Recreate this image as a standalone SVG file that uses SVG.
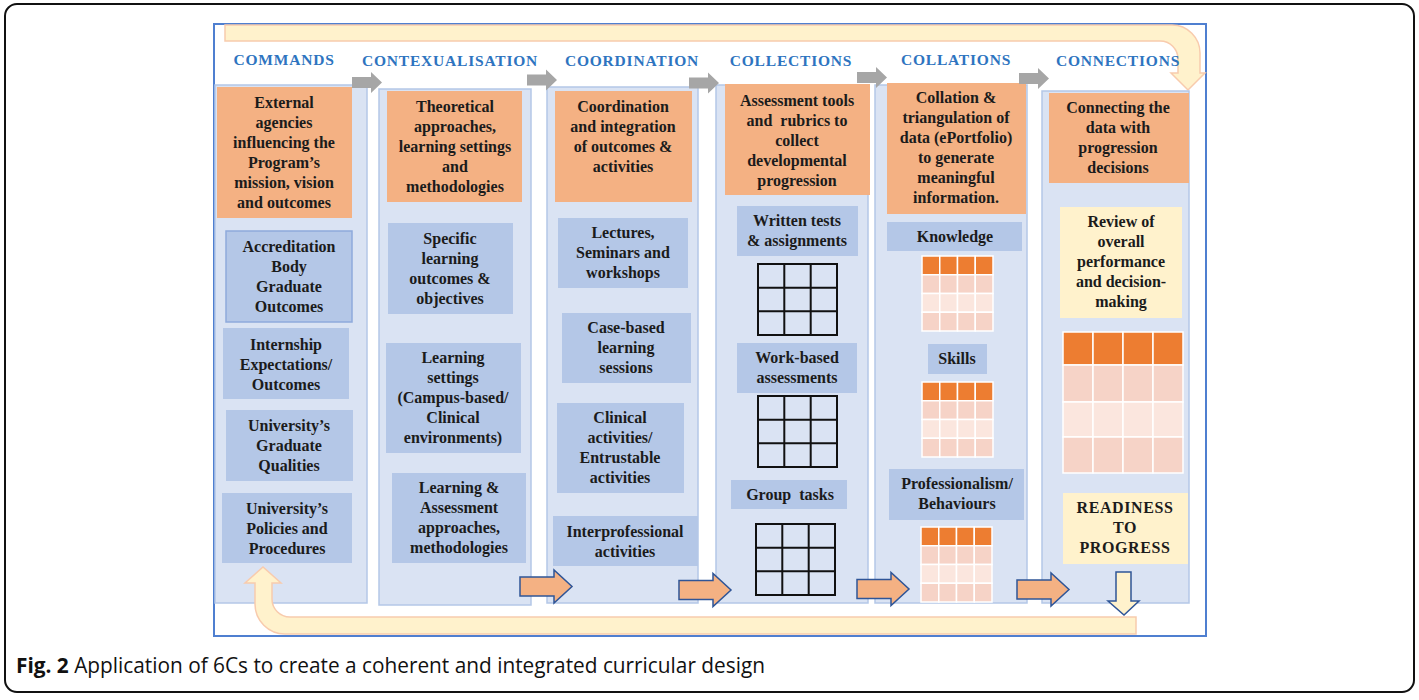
<svg xmlns="http://www.w3.org/2000/svg" width="1419" height="700" viewBox="0 0 1419 700">
<style>
.hdr{font-family:"Liberation Serif",serif;font-weight:bold;font-size:15.5px;fill:#2E74C0;letter-spacing:0.8px;text-anchor:middle}
.t{font-family:"Liberation Serif",serif;font-weight:bold;font-size:16px;fill:#1b1b1b;text-anchor:middle}
.panel{fill:#DAE3F3;stroke:#B4C7E7;stroke-width:1.5}
.ob{fill:#F4B183}
.bb{fill:#B4C7E7}
.yb{fill:#FFF2CC}
.grid{fill:none;stroke:#111;stroke-width:2}
.hc{fill:#ED7D31;stroke:#fff;stroke-width:1.5}
.r1{fill:#F6D3C7;stroke:#fff;stroke-width:1.5}
.r2{fill:#FBE6DE;stroke:#fff;stroke-width:1.5}
.gray{fill:#A6A6A6}
.oarrow{fill:#F4B183;stroke:#2F5597;stroke-width:1.5}
.uturn{fill:#FFF2CC;stroke:#F8CBAD;stroke-width:1.5}
.cap{font-family:"Open Sans","Noto Sans",sans-serif;font-size:22px;fill:#111}
</style>
<defs>
<path id="grayArrow" class="gray" d="M0,-5.5 H19 V-10.5 L30,0 L19,10.5 V5.5 H0 Z"/>
<path id="orangeArrow" class="oarrow" d="M0,-9.5 H34 V-16.5 L52,0 L34,16.5 V9.5 H0 Z"/>
<g id="grid3">
<rect class="grid" x="0" y="0" width="79" height="71"/>
<path class="grid" d="M26.3,0 V71 M52.7,0 V71 M0,23.7 H79 M0,47.3 H79"/>
</g>
<g id="smallTable">
<rect class="hc" x="0" y="0" width="17.75" height="18.75"/><rect class="hc" x="17.75" y="0" width="17.75" height="18.75"/><rect class="hc" x="35.5" y="0" width="17.75" height="18.75"/><rect class="hc" x="53.25" y="0" width="17.75" height="18.75"/>
<rect class="r1" x="0" y="18.75" width="17.75" height="18.75"/><rect class="r1" x="17.75" y="18.75" width="17.75" height="18.75"/><rect class="r1" x="35.5" y="18.75" width="17.75" height="18.75"/><rect class="r1" x="53.25" y="18.75" width="17.75" height="18.75"/>
<rect class="r2" x="0" y="37.5" width="17.75" height="18.75"/><rect class="r2" x="17.75" y="37.5" width="17.75" height="18.75"/><rect class="r2" x="35.5" y="37.5" width="17.75" height="18.75"/><rect class="r2" x="53.25" y="37.5" width="17.75" height="18.75"/>
<rect class="r1" x="0" y="56.25" width="17.75" height="18.75"/><rect class="r1" x="17.75" y="56.25" width="17.75" height="18.75"/><rect class="r1" x="35.5" y="56.25" width="17.75" height="18.75"/><rect class="r1" x="53.25" y="56.25" width="17.75" height="18.75"/>
</g>
</defs>
<rect x="0" y="0" width="1419" height="700" fill="#fff"/>
<rect id="outer-frame" x="5" y="4" width="1409" height="688" rx="12" ry="12" fill="#fff" stroke="#111" stroke-width="2"/>
<rect id="inner-frame" x="214" y="24" width="992" height="612" fill="#fff" stroke="#4F7FD0" stroke-width="2"/>

<g id="top-uturn">
<path class="uturn" d="M225,25 H1172 A28,28 0 0 1 1200,53 V73 H1205 L1188,90 L1171,73 H1178 V59 A18,18 0 0 0 1160,41 H225 Z"/>
</g>

<g id="headers">
<text class="hdr" x="284" y="65">COMMANDS</text>
<text class="hdr" x="450" y="66">CONTEXUALISATION</text>
<text class="hdr" x="632" y="66">COORDINATION</text>
<text class="hdr" x="791" y="66">COLLECTIONS</text>
<text class="hdr" x="956" y="65">COLLATIONS</text>
<text class="hdr" x="1118" y="66">CONNECTIONS</text>
</g>

<g id="col-commands">
<rect class="panel" x="215" y="85" width="152" height="518"/>
<g id="commands-main"><rect class="ob" x="217" y="87" width="135" height="131"/>
<text class="t"><tspan x="284" y="108">External</tspan><tspan x="284" y="128">agencies</tspan><tspan x="284" y="148">influencing the</tspan><tspan x="284" y="168">Program’s</tspan><tspan x="284" y="188">mission, vision</tspan><tspan x="284" y="208">and outcomes</tspan></text></g>
<g id="accreditation"><rect class="bb" x="226" y="231" width="126" height="91" stroke="#8FAADC" stroke-width="1.5"/>
<text class="t"><tspan x="289" y="252">Accreditation</tspan><tspan x="289" y="272">Body</tspan><tspan x="289" y="292">Graduate</tspan><tspan x="289" y="312">Outcomes</tspan></text></g>
<g id="internship"><rect class="bb" x="223" y="328" width="126" height="71"/>
<text class="t"><tspan x="286" y="350">Internship</tspan><tspan x="286" y="370">Expectations/</tspan><tspan x="286" y="390">Outcomes</tspan></text></g>
<g id="grad-qualities"><rect class="bb" x="226" y="410" width="127" height="71"/>
<text class="t"><tspan x="289" y="431">University’s</tspan><tspan x="289" y="451">Graduate</tspan><tspan x="289" y="471">Qualities</tspan></text></g>
<g id="policies"><rect class="bb" x="222" y="493" width="130" height="70"/>
<text class="t"><tspan x="287" y="514">University’s</tspan><tspan x="287" y="534">Policies and</tspan><tspan x="287" y="554">Procedures</tspan></text></g>
</g>

<g id="col-contextualisation">
<rect class="panel" x="379" y="89" width="152" height="516"/>
<g id="ctx-main"><rect class="ob" x="387" y="91" width="135" height="111"/>
<text class="t"><tspan x="455" y="112">Theoretical</tspan><tspan x="455" y="132">approaches,</tspan><tspan x="455" y="152">learning settings</tspan><tspan x="455" y="172">and</tspan><tspan x="455" y="192">methodologies</tspan></text></g>
<g id="specific"><rect class="bb" x="388" y="223" width="125" height="91"/>
<text class="t"><tspan x="450" y="244">Specific</tspan><tspan x="450" y="264">learning</tspan><tspan x="450" y="284">outcomes &amp;</tspan><tspan x="450" y="304">objectives</tspan></text></g>
<g id="settings"><rect class="bb" x="386" y="343" width="135" height="110"/>
<text class="t"><tspan x="453" y="363">Learning</tspan><tspan x="453" y="383">settings</tspan><tspan x="453" y="403">(Campus-based/</tspan><tspan x="453" y="423">Clinical</tspan><tspan x="453" y="443">environments)</tspan></text></g>
<g id="approaches"><rect class="bb" x="392" y="473" width="134" height="90"/>
<text class="t"><tspan x="459" y="493">Learning &amp;</tspan><tspan x="459" y="513">Assessment</tspan><tspan x="459" y="533">approaches,</tspan><tspan x="459" y="553">methodologies</tspan></text></g>
</g>

<g id="col-coordination">
<rect class="panel" x="547" y="87" width="151" height="516"/>
<g id="coord-main"><rect class="ob" x="555" y="91" width="137" height="111"/>
<text class="t"><tspan x="623" y="112">Coordination</tspan><tspan x="623" y="132">and integration</tspan><tspan x="623" y="152">of outcomes &amp;</tspan><tspan x="623" y="172">activities</tspan></text></g>
<g id="lectures"><rect class="bb" x="558" y="218" width="130" height="70"/>
<text class="t"><tspan x="623" y="238">Lectures,</tspan><tspan x="623" y="258">Seminars and</tspan><tspan x="623" y="278">workshops</tspan></text></g>
<g id="casebased"><rect class="bb" x="562" y="313" width="129" height="70"/>
<text class="t"><tspan x="626" y="333">Case-based</tspan><tspan x="626" y="353">learning</tspan><tspan x="626" y="373">sessions</tspan></text></g>
<g id="clinical"><rect class="bb" x="557" y="403" width="127" height="90"/>
<text class="t"><tspan x="620" y="423">Clinical</tspan><tspan x="620" y="443">activities/</tspan><tspan x="620" y="463">Entrustable</tspan><tspan x="620" y="483">activities</tspan></text></g>
<g id="interprof"><rect class="bb" x="553" y="516" width="145" height="50"/>
<text class="t"><tspan x="625" y="537">Interprofessional</tspan><tspan x="625" y="557">activities</tspan></text></g>
</g>

<g id="col-collections">
<rect class="panel" x="716" y="85" width="152" height="518"/>
<g id="coll-main"><rect class="ob" x="725" y="84" width="145" height="111"/>
<text class="t" xml:space="preserve"><tspan x="797" y="106">Assessment tools</tspan><tspan x="797" y="126">and  rubrics to</tspan><tspan x="797" y="146">collect</tspan><tspan x="797" y="166">developmental</tspan><tspan x="797" y="186">progression</tspan></text></g>
<g id="written"><rect class="bb" x="737" y="206" width="121" height="50"/>
<text class="t"><tspan x="797" y="226">Written tests</tspan><tspan x="797" y="246">&amp; assignments</tspan></text></g>
<use href="#grid3" x="758" y="264"/>
<g id="workbased"><rect class="bb" x="737" y="343" width="120" height="50"/>
<text class="t"><tspan x="797" y="363">Work-based</tspan><tspan x="797" y="383">assessments</tspan></text></g>
<use href="#grid3" x="758" y="396"/>
<g id="group"><rect class="bb" x="731" y="480" width="116" height="29"/>
<text class="t" xml:space="preserve" x="790" y="500">Group  tasks</text></g>
<use href="#grid3" x="756" y="524"/>
</g>

<g id="col-collations">
<rect class="panel" x="875" y="85" width="152" height="518"/>
<g id="colla-main"><rect class="ob" x="887" y="83" width="139" height="131"/>
<text class="t"><tspan x="956" y="103">Collation &amp;</tspan><tspan x="956" y="123">triangulation of</tspan><tspan x="956" y="143">data (ePortfolio)</tspan><tspan x="956" y="163">to generate</tspan><tspan x="956" y="183">meaningful</tspan><tspan x="956" y="203">information.</tspan></text></g>
<g id="knowledge"><rect class="bb" x="887" y="222" width="135" height="29"/>
<text class="t" x="955" y="242">Knowledge</text></g>
<use href="#smallTable" x="922" y="256"/>
<g id="skills"><rect class="bb" x="928" y="344" width="59" height="30"/>
<text class="t" x="957" y="364">Skills</text></g>
<use href="#smallTable" x="922" y="382"/>
<g id="professionalism"><rect class="bb" x="889" y="469" width="135" height="51"/>
<text class="t"><tspan x="957" y="489">Professionalism/</tspan><tspan x="957" y="509">Behaviours</tspan></text></g>
<use href="#smallTable" x="921" y="527"/>
</g>

<g id="col-connections">
<rect class="panel" x="1042" y="91" width="147" height="512"/>
<g id="conn-main"><rect class="ob" x="1049" y="93" width="140" height="90"/>
<text class="t"><tspan x="1118" y="113">Connecting the</tspan><tspan x="1118" y="133">data with</tspan><tspan x="1118" y="153">progression</tspan><tspan x="1118" y="173">decisions</tspan></text></g>
<g id="review"><rect class="yb" x="1060" y="207" width="122" height="111"/>
<text class="t"><tspan x="1121" y="227">Review of</tspan><tspan x="1121" y="247">overall</tspan><tspan x="1121" y="267">performance</tspan><tspan x="1121" y="287">and decision-</tspan><tspan x="1121" y="307">making</tspan></text></g>
<g id="bigTable">
<rect class="hc" x="1063" y="332" width="30" height="33"/><rect class="hc" x="1093" y="332" width="30" height="33"/><rect class="hc" x="1123" y="332" width="30" height="33"/><rect class="hc" x="1153" y="332" width="30" height="33"/>
<rect class="r1" x="1063" y="365" width="30" height="37"/><rect class="r1" x="1093" y="365" width="30" height="37"/><rect class="r1" x="1123" y="365" width="30" height="37"/><rect class="r1" x="1153" y="365" width="30" height="37"/>
<rect class="r2" x="1063" y="402" width="30" height="35"/><rect class="r2" x="1093" y="402" width="30" height="35"/><rect class="r2" x="1123" y="402" width="30" height="35"/><rect class="r2" x="1153" y="402" width="30" height="35"/>
<rect class="r1" x="1063" y="437" width="30" height="36"/><rect class="r1" x="1093" y="437" width="30" height="36"/><rect class="r1" x="1123" y="437" width="30" height="36"/><rect class="r1" x="1153" y="437" width="30" height="36"/>
</g>
<g id="readiness"><rect class="yb" x="1063" y="493" width="125" height="71"/>
<text class="t" letter-spacing="0.6"><tspan x="1125" y="513">READINESS</tspan><tspan x="1125" y="533">TO</tspan><tspan x="1125" y="553">PROGRESS</tspan></text></g>
</g>

<g id="connectors">
<use href="#grayArrow" x="352" y="82.5"/>
<use href="#grayArrow" x="527" y="80"/>
<use href="#grayArrow" x="689" y="83"/>
<use href="#grayArrow" x="857" y="77.5"/>
<use href="#grayArrow" x="1019" y="78.5"/>
<use href="#orangeArrow" x="520" y="586.5"/>
<use href="#orangeArrow" x="679" y="590"/>
<use href="#orangeArrow" x="857" y="589"/>
<use href="#orangeArrow" x="1017" y="589.5"/>
<path class="yb" stroke="#2F5597" stroke-width="1.5" d="M1116,572 H1131 V601 H1139 L1124,615 L1108,601 H1116 Z"/>
<path class="uturn" d="M1136,617 H290 A18,18 0 0 1 272,599 V583 H281 L263,567 L245,583 H255 V604 A30,30 0 0 0 285,634 H1136 Z"/>
</g>

<text id="caption" class="cap" x="16" y="673" textLength="749" lengthAdjust="spacingAndGlyphs"><tspan font-weight="bold">Fig. 2</tspan> Application of 6Cs to create a coherent and integrated curricular design</text>
</svg>
